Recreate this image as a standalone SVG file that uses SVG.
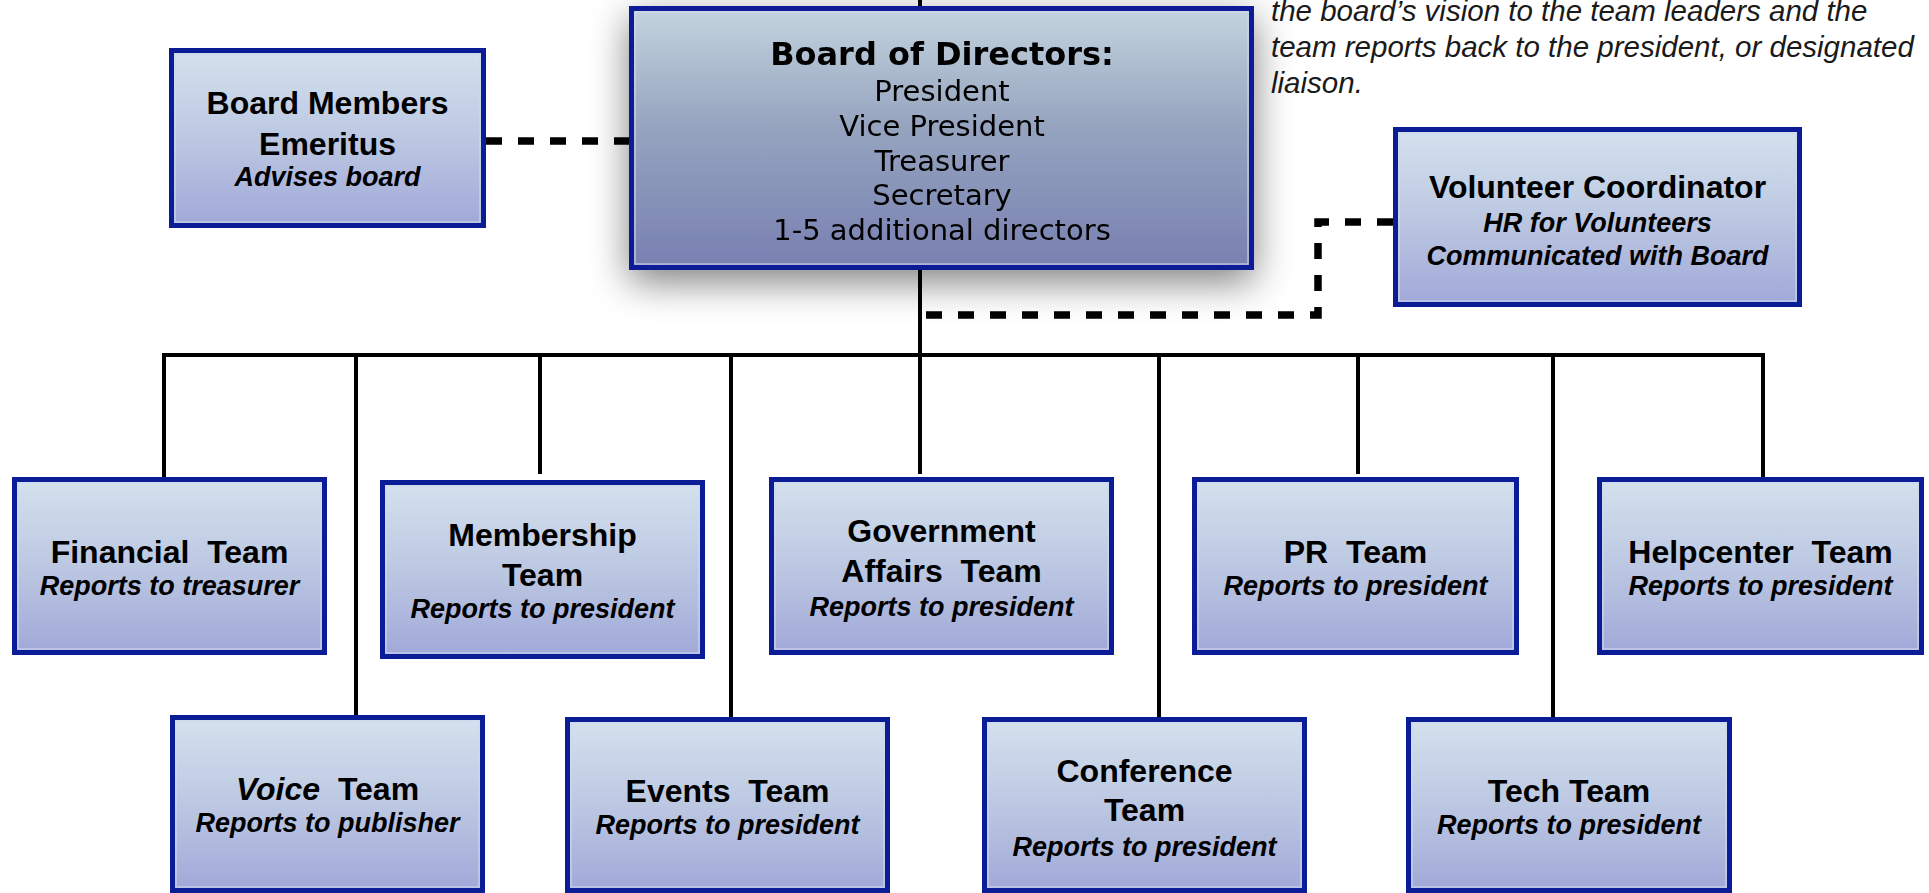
<svg xmlns="http://www.w3.org/2000/svg" width="1929" height="893" viewBox="0 0 1929 893">
<style>
.box{fill:url(#teamGrad);stroke:#0a1c96;stroke-width:5}
.inner{fill:none;stroke:#d0d7ef;stroke-width:1.5;opacity:0.75}
.title{font-family:"Liberation Sans",Arial,sans-serif;font-weight:bold;font-size:32px;text-anchor:middle;fill:#000}
.sub{font-family:"Liberation Sans",Arial,sans-serif;font-weight:bold;font-style:italic;font-size:27px;text-anchor:middle;fill:#000}
.bt{font-family:"DejaVu Sans",Verdana,sans-serif;font-weight:bold;font-size:32px;text-anchor:middle;fill:#000}
.br{font-family:"DejaVu Sans",Verdana,sans-serif;font-size:29px;text-anchor:middle;fill:#000}
.note{font-family:"Liberation Sans",Arial,sans-serif;font-style:italic;font-size:29.5px;fill:#1a1a1a}
.solid{stroke:#000;stroke-width:4;fill:none}
.dash{stroke:#000;stroke-width:7.5;fill:none;stroke-dasharray:16 16;stroke-linejoin:miter}
</style>
<defs>
<linearGradient id="teamGrad" x1="0" y1="0" x2="0" y2="1">
<stop offset="0" stop-color="#d4e1ed"/>
<stop offset="0.5" stop-color="#bcc8e2"/>
<stop offset="1" stop-color="#a1a8d8"/>
</linearGradient>
<linearGradient id="boardGrad" x1="0" y1="0" x2="0" y2="1">
<stop offset="0" stop-color="#c5d4df"/>
<stop offset="0.45" stop-color="#96a4bf"/>
<stop offset="1" stop-color="#7880b1"/>
</linearGradient>
<filter id="shadow" x="-25%" y="-40%" width="150%" height="190%">
<feGaussianBlur in="SourceAlpha" stdDeviation="19"/>
<feOffset dx="0" dy="12" result="b"/>
<feComponentTransfer><feFuncA type="linear" slope="0.5"/></feComponentTransfer>
<feMerge><feMergeNode/><feMergeNode in="SourceGraphic"/></feMerge>
</filter>
</defs>
<rect width="1929" height="893" fill="#fff"/>

<g id="note">
<text class="note" x="1271" y="21">the board’s vision to the team leaders and the</text>
<text class="note" x="1271" y="57">team reports back to the president, or designated</text>
<text class="note" x="1271" y="93">liaison.</text>
</g>

<g id="connectors">
<line class="solid" x1="920" y1="0" x2="920" y2="10"/>
<line class="solid" x1="920" y1="268" x2="920" y2="474"/>
<line class="solid" x1="162" y1="355" x2="1765" y2="355"/>
<line class="solid" x1="164" y1="355" x2="164" y2="478"/>
<line class="solid" x1="356" y1="355" x2="356" y2="716"/>
<line class="solid" x1="540" y1="355" x2="540" y2="474"/>
<line class="solid" x1="731" y1="355" x2="731" y2="718"/>
<line class="solid" x1="1159" y1="355" x2="1159" y2="718"/>
<line class="solid" x1="1358" y1="355" x2="1358" y2="474"/>
<line class="solid" x1="1553" y1="355" x2="1553" y2="718"/>
<line class="solid" x1="1763" y1="355" x2="1763" y2="478"/>
<path class="dash" d="M486,141 H630"/>
<path class="dash" d="M1393,222 H1318 V315 H920"/>
</g>

<g id="board" filter="url(#shadow)">
<rect x="631.5" y="8.5" width="620" height="259" fill="url(#boardGrad)" stroke="#0a1c96" stroke-width="5"/>
<rect class="inner" x="635" y="12" width="613" height="252"/>
<text class="bt" x="942" y="65">Board of Directors:</text>
<text class="br" x="942" y="101">President</text>
<text class="br" x="942" y="136">Vice President</text>
<text class="br" x="942" y="171">Treasurer</text>
<text class="br" x="942" y="205">Secretary</text>
<text class="br" x="942" y="240">1-5 additional directors</text>
</g>

<g id="emeritus">
<rect class="box" x="171.5" y="50.5" width="312" height="175"/>
<rect class="inner" x="175" y="54" width="305" height="168"/>
<text class="title" x="327.5" y="114">Board Members</text>
<text class="title" x="327.5" y="155">Emeritus</text>
<text class="sub" x="327.5" y="186">Advises board</text>
</g>

<g id="volunteer">
<rect class="box" x="1395.5" y="129.5" width="404" height="175"/>
<rect class="inner" x="1399" y="133" width="397" height="168"/>
<text class="title" x="1597.5" y="198">Volunteer Coordinator</text>
<text class="sub" x="1597.5" y="232">HR for Volunteers</text>
<text class="sub" x="1597.5" y="265">Communicated with Board</text>
</g>

<g id="financial">
<rect class="box" x="14.5" y="479.5" width="310" height="173"/>
<rect class="inner" x="18" y="483" width="303" height="166"/>
<text class="title" x="169.5" y="563" xml:space="preserve">Financial  Team</text>
<text class="sub" x="169.5" y="595">Reports to treasurer</text>
</g>

<g id="membership">
<rect class="box" x="382.5" y="482.5" width="320" height="174"/>
<rect class="inner" x="386" y="486" width="313" height="167"/>
<text class="title" x="542.5" y="546">Membership</text>
<text class="title" x="542.5" y="586">Team</text>
<text class="sub" x="542.5" y="618">Reports to president</text>
</g>

<g id="government">
<rect class="box" x="771.5" y="479.5" width="340" height="173"/>
<rect class="inner" x="775" y="483" width="333" height="166"/>
<text class="title" x="941.5" y="542">Government</text>
<text class="title" x="941.5" y="582" xml:space="preserve">Affairs  Team</text>
<text class="sub" x="941.5" y="616">Reports to president</text>
</g>

<g id="pr">
<rect class="box" x="1194.5" y="479.5" width="322" height="173"/>
<rect class="inner" x="1198" y="483" width="315" height="166"/>
<text class="title" x="1355.5" y="563" xml:space="preserve">PR  Team</text>
<text class="sub" x="1355.5" y="595">Reports to president</text>
</g>

<g id="helpcenter">
<rect class="box" x="1599.5" y="479.5" width="322" height="173"/>
<rect class="inner" x="1603" y="483" width="315" height="166"/>
<text class="title" x="1760.5" y="563" xml:space="preserve">Helpcenter  Team</text>
<text class="sub" x="1760.5" y="595">Reports to president</text>
</g>

<g id="voice">
<rect class="box" x="172.5" y="717.5" width="310" height="173"/>
<rect class="inner" x="176" y="721" width="303" height="166"/>
<text class="title" x="327.5" y="800" xml:space="preserve"><tspan font-style="italic">Voice</tspan>  Team</text>
<text class="sub" x="327.5" y="832">Reports to publisher</text>
</g>

<g id="events">
<rect class="box" x="567.5" y="719.5" width="320" height="171"/>
<rect class="inner" x="571" y="723" width="313" height="164"/>
<text class="title" x="727.5" y="802" xml:space="preserve">Events  Team</text>
<text class="sub" x="727.5" y="834">Reports to president</text>
</g>

<g id="conference">
<rect class="box" x="984.5" y="719.5" width="320" height="171"/>
<rect class="inner" x="988" y="723" width="313" height="164"/>
<text class="title" x="1144.5" y="782">Conference</text>
<text class="title" x="1144.5" y="821">Team</text>
<text class="sub" x="1144.5" y="856">Reports to president</text>
</g>

<g id="tech">
<rect class="box" x="1408.5" y="719.5" width="321" height="171"/>
<rect class="inner" x="1412" y="723" width="314" height="164"/>
<text class="title" x="1569" y="802">Tech Team</text>
<text class="sub" x="1569" y="834">Reports to president</text>
</g>
</svg>
